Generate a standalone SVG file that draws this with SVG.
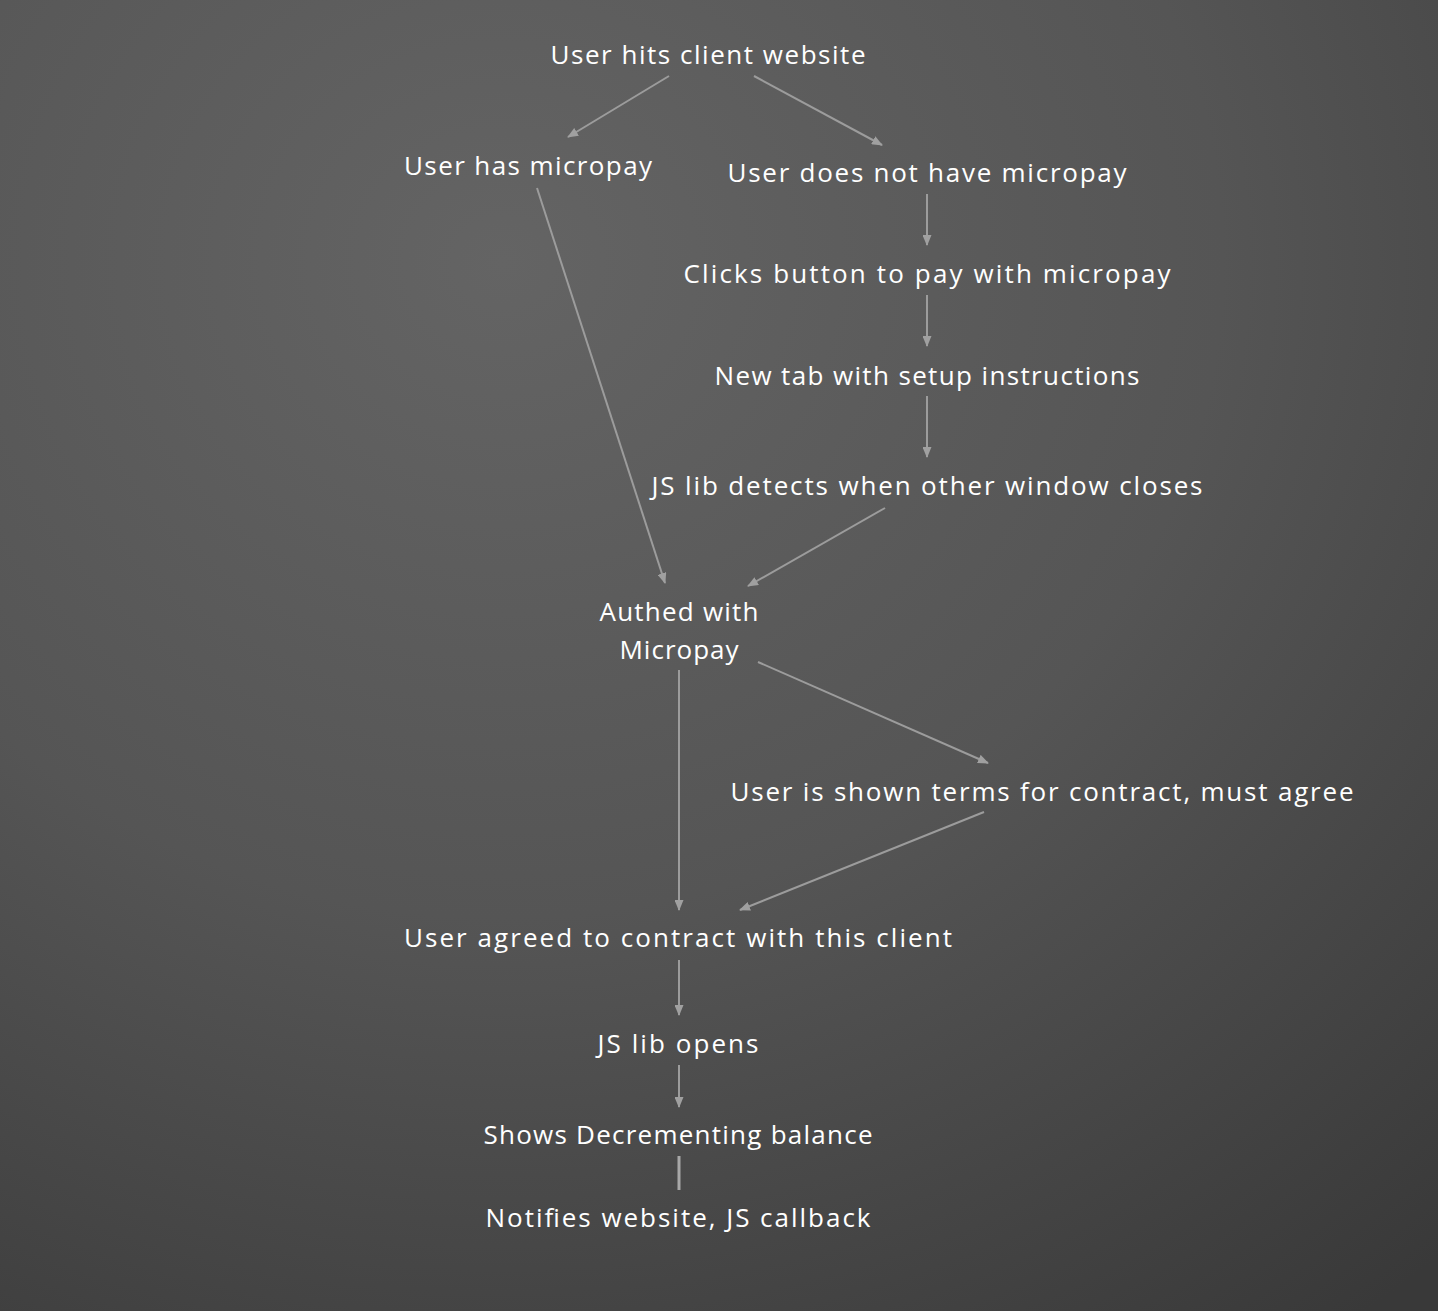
<svg xmlns="http://www.w3.org/2000/svg" width="1438" height="1311" viewBox="0 0 1438 1311">
<defs>
<radialGradient id="bg" cx="0.35" cy="0.2" r="1.0">
<stop offset="0" stop-color="#646464"/>
<stop offset="0.5" stop-color="#555555"/>
<stop offset="1" stop-color="#393939"/>
</radialGradient>
<marker id="ah" markerWidth="11" markerHeight="9" refX="10" refY="4.5" orient="auto" markerUnits="userSpaceOnUse">
<path d="M0,0 L11,4.5 L0,9 Z" fill="#a0a0a0"/>
</marker>
<style>
.t{font-family:"Open Sans","Noto Sans",sans-serif;font-size:26px;fill:#ffffff;text-anchor:middle}
.c{stroke:#9c9c9c;stroke-width:2;fill:none}
</style>
</defs>
<rect width="1438" height="1311" fill="url(#bg)"/>
<g id="connectors">
<line class="c" x1="669" y1="76" x2="568" y2="137" marker-end="url(#ah)"/>
<line class="c" x1="754" y1="76" x2="882" y2="145" marker-end="url(#ah)"/>
<line class="c" x1="537" y1="188" x2="665" y2="583" marker-end="url(#ah)"/>
<line class="c" x1="927" y1="194" x2="927" y2="245" marker-end="url(#ah)"/>
<line class="c" x1="927" y1="295" x2="927" y2="346" marker-end="url(#ah)"/>
<line class="c" x1="927" y1="396" x2="927" y2="457" marker-end="url(#ah)"/>
<line class="c" x1="885" y1="508" x2="748" y2="586" marker-end="url(#ah)"/>
<line class="c" x1="758" y1="662" x2="988" y2="763" marker-end="url(#ah)"/>
<line class="c" x1="679" y1="670" x2="679" y2="910" marker-end="url(#ah)"/>
<line class="c" x1="984" y1="812" x2="740" y2="910" marker-end="url(#ah)"/>
<line class="c" x1="679" y1="960" x2="679" y2="1015" marker-end="url(#ah)"/>
<line class="c" x1="679" y1="1065" x2="679" y2="1107" marker-end="url(#ah)"/>
<line x1="679" y1="1156" x2="679" y2="1190" stroke="#a8a8a8" stroke-width="3"/>
</g>
<g id="n1"><text class="t" x="708" y="64" textLength="315">User hits client website</text></g>
<g id="n2"><text class="t" x="528" y="175" textLength="248">User has micropay</text></g>
<g id="n3"><text class="t" x="927" y="182" textLength="399">User does not have micropay</text></g>
<g id="n4"><text class="t" x="927" y="283" textLength="487">Clicks button to pay with micropay</text></g>
<g id="n5"><text class="t" x="927" y="385" textLength="425">New tab with setup instructions</text></g>
<g id="n6"><text class="t" x="927" y="495" textLength="551">JS lib detects when other window closes</text></g>
<g id="n7"><text class="t" x="679" y="621" textLength="159">Authed with</text><text class="t" x="679" y="659" textLength="119">Micropay</text></g>
<g id="n8"><text class="t" x="1042" y="801" textLength="623">User is shown terms for contract, must agree</text></g>
<g id="n9"><text class="t" x="678" y="947" textLength="548">User agreed to contract with this client</text></g>
<g id="n10"><text class="t" x="678" y="1053" textLength="161">JS lib opens</text></g>
<g id="n11"><text class="t" x="678" y="1144" textLength="389">Shows Decrementing balance</text></g>
<g id="n12"><text class="t" x="678" y="1227" textLength="385">Notifies website, JS callback</text></g>
</svg>
